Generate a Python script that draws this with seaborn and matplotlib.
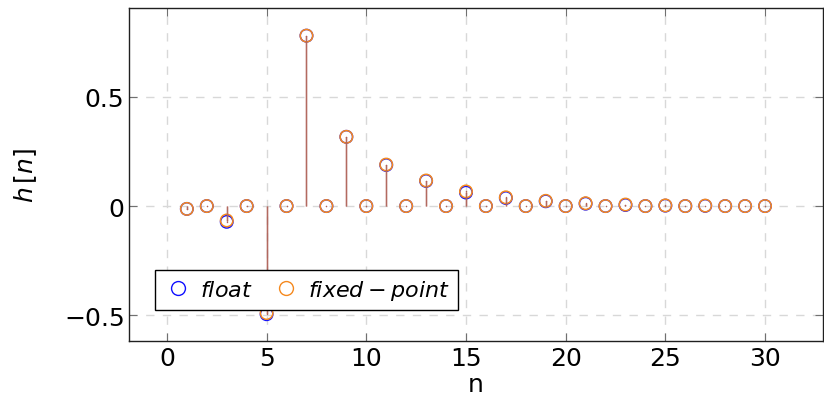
import numpy as np
import pandas as pd
import matplotlib
matplotlib.use("Agg")
import matplotlib.pyplot as plt
import seaborn as sns
from matplotlib.lines import Line2D

# impulse response, float vs fixed-point
n_idx = list(range(1, 31))
h_float = [-0.013, 0.0, -0.072, 0.0, -0.495, 0.0, 0.78, 0.0, 0.317, 0.0,
           0.188, 0.0, 0.115, 0.0, 0.062, 0.0, 0.037, 0.0, 0.022, 0.0,
           0.011, 0.0, 0.005, 0.0, 0.002, 0.0, 0.001, 0.0, 0.0, 0.0]
h_fixed = [-0.013, 0.0, -0.066, 0.0, -0.49, 0.0, 0.78, 0.0, 0.317, 0.0,
           0.19, 0.0, 0.117, 0.0, 0.067, 0.0, 0.04, 0.0, 0.024, 0.0,
           0.013, 0.0, 0.007, 0.0, 0.003, 0.0, 0.002, 0.0, 0.0, 0.0]

COL = {"float": "#1010ff", "fixed": "#f5891e"}
STEM = "#b0645a"

df = pd.concat([
    pd.DataFrame({"n": n_idx, "h": h_float, "kind": "float"}),
    pd.DataFrame({"n": n_idx, "h": h_fixed, "kind": "fixed"}),
])

sns.set_style("white")
plt.rcParams["font.family"] = ["DejaVu Sans"]
plt.rcParams["mathtext.fontset"] = "dejavusans"
plt.rcParams["text.color"] = "black"
plt.rcParams["axes.labelcolor"] = "black"
plt.rcParams["xtick.color"] = "black"
plt.rcParams["ytick.color"] = "black"

fig = plt.figure(figsize=(8.24, 4.06), dpi=100)
ax = fig.add_axes([0.1566, 0.158, 0.842, 0.82])

ax.grid(True, color="#d8d8d8", linestyle=(0, (6, 6)), linewidth=1.0)
ax.set_axisbelow(True)

for kind in ["float", "fixed"]:
    sub = df[df["kind"] == kind]
    ax.vlines(sub["n"], 0, sub["h"], color=STEM, linewidth=1.0, alpha=0.8)

for kind in ["float", "fixed"]:
    sub = df[df["kind"] == kind]
    sns.scatterplot(data=sub, x="n", y="h", ax=ax, marker="o", s=80,
                    facecolors="none", edgecolor=COL[kind], linewidth=1.1,
                    legend=False)
    sns.scatterplot(data=sub, x="n", y="h", ax=ax, marker=".", s=4,
                    color=STEM, linewidth=0, legend=False)

ax.set_xlim(-1.9, 32.9)
ax.set_ylim(-0.617, 0.907)
ax.set_xticks([0, 5, 10, 15, 20, 25, 30])
ax.set_yticks([-0.5, 0, 0.5])
ax.set_yticklabels(["$-0.5$", "0", "0.5"])
ax.tick_params(axis="both", labelsize=18, direction="in", length=6,
               color="#707070", labelcolor="black",
               top=True, right=True, bottom=True, left=True)
for sp in ax.spines.values():
    sp.set_color("#202020")
    sp.set_linewidth(1.0)

ax.set_xlabel("n", fontsize=18, labelpad=2)
ax.set_ylabel("$h\\,[n]$", fontsize=18, labelpad=18)

handles = [Line2D([], [], marker="o", linestyle="none", markersize=10,
                  markerfacecolor="none", markeredgecolor=COL["float"]),
           Line2D([], [], marker="o", linestyle="none", markersize=10,
                  markerfacecolor="none", markeredgecolor=COL["fixed"])]
leg = ax.legend(handles, ["$float$", "$fixed-point$"], ncol=2,
                loc="lower left", bbox_to_anchor=(0.037, 0.093),
                borderaxespad=0, fontsize=16, frameon=True, fancybox=False,
                edgecolor="black", framealpha=1, handletextpad=0.3,
                columnspacing=0.8, borderpad=0.35, handlelength=1.4)
leg.get_frame().set_linewidth(1.0)

fig.savefig("out.png", dpi=100)
